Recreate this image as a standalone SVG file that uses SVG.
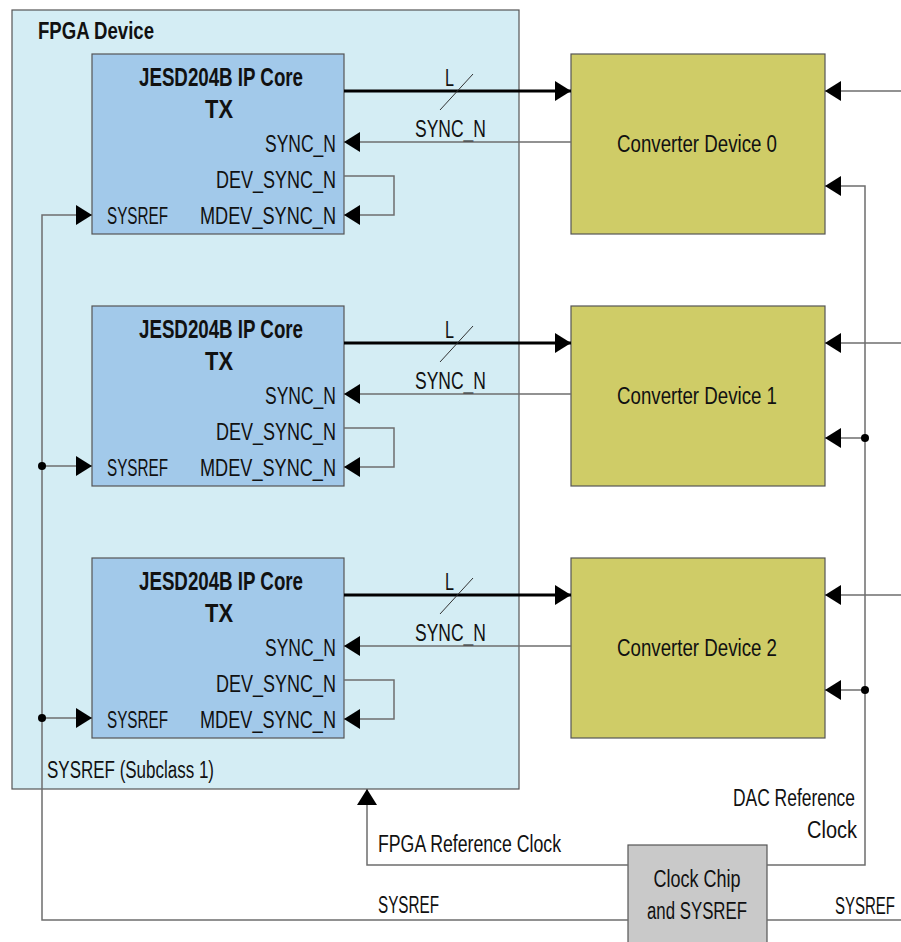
<svg xmlns="http://www.w3.org/2000/svg" width="901" height="942" viewBox="0 0 901 942">
<defs>
<style>
text{font-family:"Liberation Sans",Arial,sans-serif;font-size:23px;fill:#111}
.b{font-weight:bold;font-size:25px}
.m{text-anchor:middle}
.e{text-anchor:end}
.ln{fill:none;stroke:#6e6e6e;stroke-width:1.5}
.bold{fill:none;stroke:#000;stroke-width:3}
.sl{fill:none;stroke:#333;stroke-width:1}
.fpga{fill:#d4edf4;stroke:#555;stroke-width:1.2}
.ip{fill:#a2c9ea;stroke:#555;stroke-width:1.2}
.cv{fill:#cfcc67;stroke:#555;stroke-width:1.2}
.ck{fill:#c9c9c9;stroke:#555;stroke-width:1.2}
</style>
<marker id="ah" markerWidth="16" markerHeight="20" refX="16" refY="10" orient="auto" markerUnits="userSpaceOnUse"><path d="M0,0 L16,10 L0,20 Z" fill="#000"/></marker>
</defs>
<g id="fpga"><rect class="fpga" x="12" y="10" width="507" height="779"/><text class="b" x="38" y="39" style="font-size:24px" textLength="116" lengthAdjust="spacingAndGlyphs">FPGA Device</text><text x="47" y="778" textLength="167" lengthAdjust="spacingAndGlyphs">SYSREF (Subclass 1)</text></g>
<g id="ip0"><rect class="ip" x="92" y="54" width="252" height="180"/><text class="b m" x="221" y="86" textLength="164" lengthAdjust="spacingAndGlyphs">JESD204B IP Core</text><text class="b m" x="219" y="118" textLength="28" lengthAdjust="spacingAndGlyphs">TX</text><text class="e" x="336" y="152" textLength="71" lengthAdjust="spacingAndGlyphs">SYNC_N</text><text class="e" x="336" y="188" textLength="120" lengthAdjust="spacingAndGlyphs">DEV_SYNC_N</text><text class="e" x="336" y="224" textLength="136" lengthAdjust="spacingAndGlyphs">MDEV_SYNC_N</text><text x="107" y="224" textLength="61" lengthAdjust="spacingAndGlyphs">SYSREF</text></g>
<g id="ip1"><rect class="ip" x="92" y="306" width="252" height="180"/><text class="b m" x="221" y="338" textLength="164" lengthAdjust="spacingAndGlyphs">JESD204B IP Core</text><text class="b m" x="219" y="370" textLength="28" lengthAdjust="spacingAndGlyphs">TX</text><text class="e" x="336" y="404" textLength="71" lengthAdjust="spacingAndGlyphs">SYNC_N</text><text class="e" x="336" y="440" textLength="120" lengthAdjust="spacingAndGlyphs">DEV_SYNC_N</text><text class="e" x="336" y="476" textLength="136" lengthAdjust="spacingAndGlyphs">MDEV_SYNC_N</text><text x="107" y="476" textLength="61" lengthAdjust="spacingAndGlyphs">SYSREF</text></g>
<g id="ip2"><rect class="ip" x="92" y="558" width="252" height="180"/><text class="b m" x="221" y="590" textLength="164" lengthAdjust="spacingAndGlyphs">JESD204B IP Core</text><text class="b m" x="219" y="622" textLength="28" lengthAdjust="spacingAndGlyphs">TX</text><text class="e" x="336" y="656" textLength="71" lengthAdjust="spacingAndGlyphs">SYNC_N</text><text class="e" x="336" y="692" textLength="120" lengthAdjust="spacingAndGlyphs">DEV_SYNC_N</text><text class="e" x="336" y="728" textLength="136" lengthAdjust="spacingAndGlyphs">MDEV_SYNC_N</text><text x="107" y="728" textLength="61" lengthAdjust="spacingAndGlyphs">SYSREF</text></g>
<g id="conv0"><rect class="cv" x="571" y="54" width="254" height="180"/><text class="m" x="697" y="152" textLength="160" lengthAdjust="spacingAndGlyphs">Converter Device 0</text></g>
<g id="conv1"><rect class="cv" x="571" y="306" width="254" height="180"/><text class="m" x="697" y="404" textLength="160" lengthAdjust="spacingAndGlyphs">Converter Device 1</text></g>
<g id="conv2"><rect class="cv" x="571" y="558" width="254" height="180"/><text class="m" x="697" y="656" textLength="160" lengthAdjust="spacingAndGlyphs">Converter Device 2</text></g>
<g id="clock"><rect class="ck" x="628" y="845" width="139" height="105"/><text class="m" x="697" y="887" textLength="87" lengthAdjust="spacingAndGlyphs">Clock Chip</text><text class="m" x="697" y="919" textLength="100" lengthAdjust="spacingAndGlyphs">and SYSREF</text></g>
<g id="connectors">
<path class="bold" d="M344,91 H571" marker-end="url(#ah)"/>
<path class="bold" d="M344,343 H571" marker-end="url(#ah)"/>
<path class="bold" d="M344,595 H571" marker-end="url(#ah)"/>
<path class="sl" d="M440,110 L473,74 M440,362 L473,326 M440,614 L473,578"/>
<text x="445" y="86" textLength="9" lengthAdjust="spacingAndGlyphs">L</text><text x="445" y="338" textLength="9" lengthAdjust="spacingAndGlyphs">L</text><text x="445" y="590" textLength="9" lengthAdjust="spacingAndGlyphs">L</text>
<text x="415" y="137" textLength="71" lengthAdjust="spacingAndGlyphs">SYNC_N</text><text x="415" y="389" textLength="71" lengthAdjust="spacingAndGlyphs">SYNC_N</text><text x="415" y="641" textLength="71" lengthAdjust="spacingAndGlyphs">SYNC_N</text>
<path class="ln" d="M571,142 H344" marker-end="url(#ah)"/>
<path class="ln" d="M571,394 H344" marker-end="url(#ah)"/>
<path class="ln" d="M571,646 H344" marker-end="url(#ah)"/>
<path class="ln" d="M344,176 H394 V215 H344" marker-end="url(#ah)"/>
<path class="ln" d="M344,428 H394 V467 H344" marker-end="url(#ah)"/>
<path class="ln" d="M344,680 H394 V719 H344" marker-end="url(#ah)"/>
<path class="ln" d="M628,920 H42 V215 H92" marker-end="url(#ah)"/>
<path class="ln" d="M42,466 H92" marker-end="url(#ah)"/>
<path class="ln" d="M42,718 H92" marker-end="url(#ah)"/>
<circle cx="42" cy="466" r="4" fill="#000"/><circle cx="42" cy="718" r="4" fill="#000"/>
<path class="ln" d="M628,865 H367 V789" marker-end="url(#ah)"/>
<path class="ln" d="M767,865 H865 V186 H825" marker-end="url(#ah)"/>
<path class="ln" d="M865,438 H825" marker-end="url(#ah)"/>
<path class="ln" d="M865,690 H825" marker-end="url(#ah)"/>
<circle cx="865" cy="438" r="4" fill="#000"/><circle cx="865" cy="690" r="4" fill="#000"/>
<path class="ln" d="M901,91 H825" marker-end="url(#ah)"/>
<path class="ln" d="M901,343 H825" marker-end="url(#ah)"/>
<path class="ln" d="M901,595 H825" marker-end="url(#ah)"/>
<path class="ln" d="M767,920 H901"/>
<text x="378" y="852" textLength="183" lengthAdjust="spacingAndGlyphs">FPGA Reference Clock</text>
<text x="378" y="913" textLength="61" lengthAdjust="spacingAndGlyphs">SYSREF</text>
<text x="835" y="914" textLength="60" lengthAdjust="spacingAndGlyphs">SYSREF</text>
<text class="e" x="855" y="806" textLength="122" lengthAdjust="spacingAndGlyphs">DAC Reference</text>
<text class="e" x="857" y="838" textLength="50" lengthAdjust="spacingAndGlyphs">Clock</text>
</g>
</svg>
